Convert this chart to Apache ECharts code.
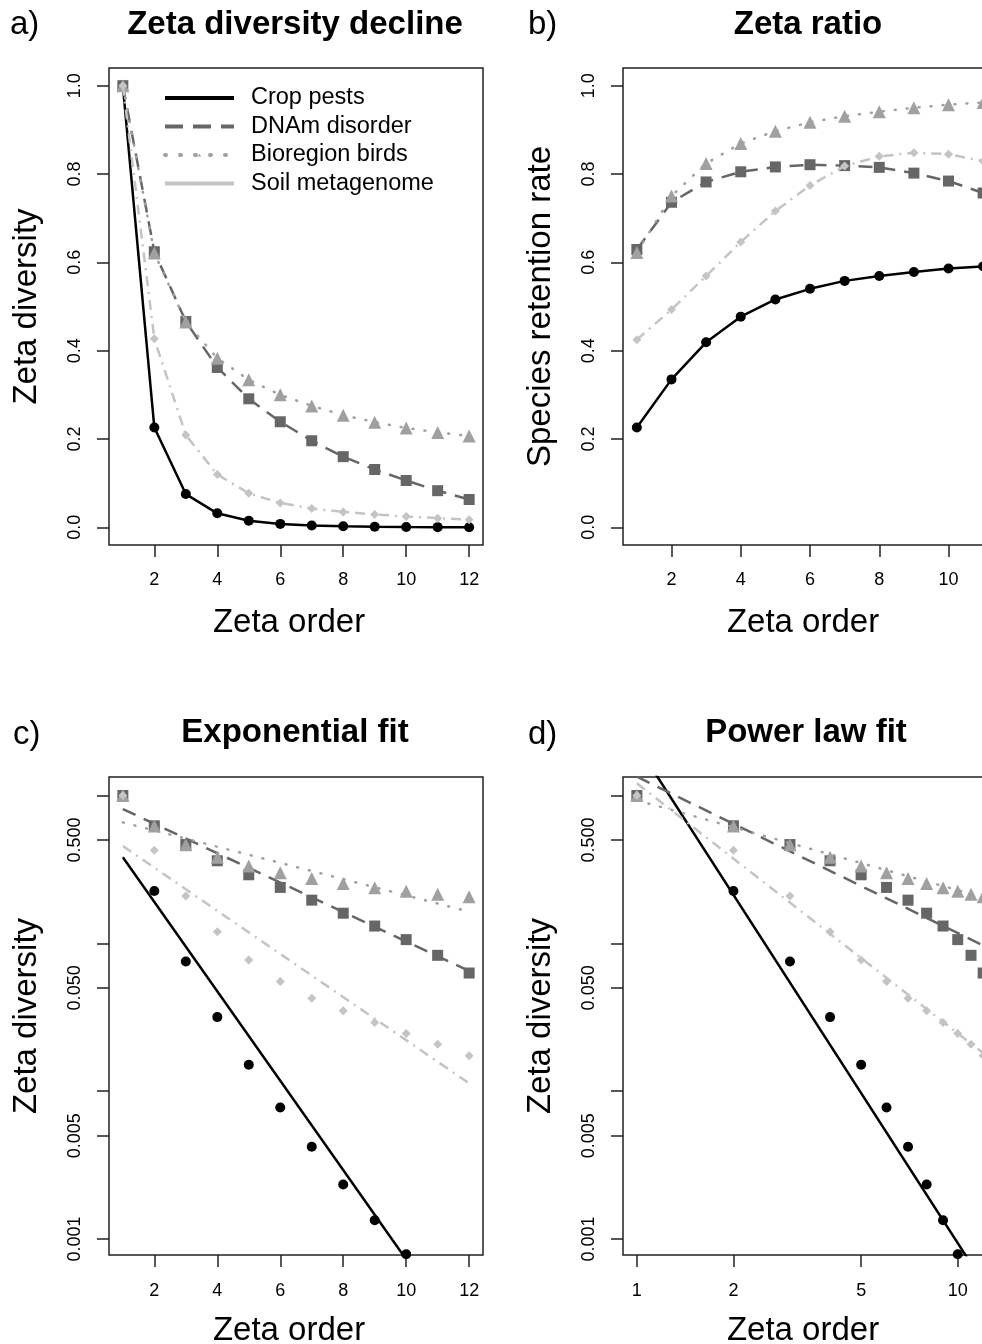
<!DOCTYPE html>
<html>
<head>
<meta charset="utf-8">
<script src="https://cdn.jsdelivr.net/npm/echarts@6/dist/echarts.min.js"></script>
<style>
  html, body { margin: 0; padding: 0; background: #fff; }
  #chart { width: 982px; height: 1344px; }
</style>
</head>
<body>
<div id="chart"></div>
<script>
(function () {

    var FONT = '"Liberation Sans", Arial, Helvetica, sans-serif';

    // data
    var names = ['Crop pests', 'DNAm disorder', 'Bioregion birds', 'Soil metagenome'];
    var orders = [1, 2, 3, 4, 5, 6, 7, 8, 9, 10, 11, 12];
    var ratioOrders = [1, 2, 3, 4, 5, 6, 7, 8, 9, 10, 11];

    var cropZeta = [1, 0.226, 0.0753, 0.0317, 0.0151, 0.00776, 0.00421, 0.00234, 0.00134, 0.00079, 0.00046, 0.00027];
    var dnamZeta = [1, 0.624, 0.466, 0.362, 0.291, 0.239, 0.196, 0.160, 0.131, 0.106, 0.083, 0.063];
    var birdZeta = [1, 0.621, 0.465, 0.383, 0.334, 0.300, 0.275, 0.254, 0.238, 0.225, 0.215, 0.207];
    var soilZeta = [1, 0.427, 0.209, 0.1197, 0.0772, 0.0552, 0.0425, 0.0350, 0.0292, 0.0246, 0.0208, 0.0174];

    var cropRatio = [0.226, 0.335, 0.419, 0.477, 0.516, 0.540, 0.558, 0.569, 0.578, 0.586, 0.591];
    var dnamRatio = [0.629, 0.736, 0.782, 0.805, 0.816, 0.821, 0.819, 0.815, 0.802, 0.784, 0.757];
    var birdRatio = [0.622, 0.750, 0.824, 0.869, 0.897, 0.917, 0.931, 0.941, 0.950, 0.957, 0.962];
    var soilRatio = [0.425, 0.493, 0.569, 0.646, 0.716, 0.774, 0.818, 0.840, 0.848, 0.845, 0.829];

    // fitted lines, value at order 1 and order 12
    var fitEnds = [1, 12];
    var expFitCrop = [0.382, 0.000181];
    var expFitDnam = [0.81, 0.0651];
    var expFitBird = [0.658, 0.164];
    var expFitSoil = [0.455, 0.0113];
    var powFitCrop = [2.2, 0.000508];
    var powFitDnam = [1.34, 0.0968];
    var powFitBird = [0.93, 0.205];
    var powFitSoil = [1.21, 0.0181];

    var linearTicks = [0, 0.2, 0.4, 0.6, 0.8, 1.0];
    var orderTicks = [2, 4, 6, 8, 10, 12];
    var ratioOrderTicks = [2, 4, 6, 8, 10];
    var logTicks = [0.001, 0.005, 0.01, 0.05, 0.1, 0.5, 1];
    var logLabels = [0.001, 0.005, 0.05, 0.5];
    var logOrderTicks = [1, 2, 5, 10];

    //
    var colors = ['#000000', '#666666', '#a0a0a0', '#c4c4c4'];
    var symbols = ['circle', 'rect', 'triangle', 'diamond'];
    var symbolSizes = [10, 11, 13, 9];
    var dashes = ['solid', [14, 9], [1, 11], [10, 6, 2, 6]];

    var zetaSets = [cropZeta, dnamZeta, birdZeta, soilZeta];
    var ratioSets = [cropRatio, dnamRatio, birdRatio, soilRatio];
    var expFits = [expFitCrop, expFitDnam, expFitBird, expFitSoil];
    var powFits = [powFitCrop, powFitDnam, powFitBird, powFitSoil];

    function log10(v) {
        return Math.log(v) / Math.LN10;
    }

    function pairs(xs, ys, fx, fy) {
        var out = [];
        for (var i = 0; i < xs.length; i++) {
            out.push([fx ? fx(xs[i]) : xs[i], fy ? fy(ys[i]) : ys[i]]);
        }
        return out;
    }

    function lineStyleFor(k) {
        return {
            color: colors[k],
            width: 2.5,
            type: dashes[k],
            cap: k === 2 ? 'round' : 'butt'
        };
    }

    //
    var grids = [
        { left: 109, top: 68, width: 374, height: 477 },
        { left: 623, top: 68, width: 374, height: 477 },
        { left: 109, top: 777, width: 374, height: 478 },
        { left: 623, top: 777, width: 374, height: 478 }
    ];
    grids.forEach(function (g) {
        g.show = true;
        g.borderColor = '#222';
        g.borderWidth = 1.5;
        g.backgroundColor = 'transparent';
        g.outerBoundsMode = 'none';
        g.containLabel = false;
    });

    function baseAxis(extra) {
        var ax = {
            type: 'value',
            axisLine: { show: false, onZero: false },
            splitLine: { show: false },
            axisTick: { show: true, length: 12, lineStyle: { color: '#222', width: 1.5 } },
            axisLabel: { color: '#000', fontSize: 18, fontFamily: FONT },
            nameLocation: 'middle',
            nameMoveOverlap: false,
            nameTextStyle: { color: '#000', fontSize: 33, fontFamily: FONT }
        };
        for (var k in extra) {
            ax[k] = extra[k];
        }
        return ax;
    }

    function xAxisFor(gridIndex, min, max, ticks, labelFmt, margin, gap) {
        var ax = baseAxis({
            gridIndex: gridIndex,
            position: 'bottom',
            min: min,
            max: max,
            name: 'Zeta order',
            nameGap: gap
        });
        ax.nameTextStyle = { color: '#000', fontSize: 33, fontFamily: FONT, padding: [0, 14, 0, 0] };
        ax.axisTick.customValues = ticks;
        ax.axisLabel.customValues = ticks;
        ax.axisLabel.margin = margin;
        if (labelFmt) {
            ax.axisLabel.formatter = labelFmt;
        }
        return ax;
    }

    function yAxisFor(gridIndex, min, max, ticks, labels, labelFmt, name) {
        var ax = baseAxis({
            gridIndex: gridIndex,
            position: 'left',
            min: min,
            max: max,
            name: name,
            nameGap: 66
        });
        ax.axisTick.customValues = ticks;
        ax.axisLabel.customValues = labels;
        ax.axisLabel.rotate = 90;
        ax.axisLabel.margin = 25;
        ax.axisLabel.formatter = labelFmt;
        return ax;
    }

    var logTickVals = logTicks.map(log10);
    var logLabelVals = logLabels.map(log10);
    var logOrderVals = logOrderTicks.map(log10);

    function fmt1(v) { return v.toFixed(1); }
    function fmtLog(v) { return Math.pow(10, v).toFixed(3); }
    function fmtLogOrder(v) { return String(Math.round(Math.pow(10, v))); }

    var logYMin = -3.108;
    var logYMax = 0.1253;
    var logXSpan = log10(12) * 0.04;

    var xAxes = [
        xAxisFor(0, 0.56, 12.44, orderTicks, null, 26, 61),
        xAxisFor(1, 0.6, 11.4, ratioOrderTicks, null, 26, 61),
        xAxisFor(2, 0.56, 12.44, orderTicks, null, 27, 59),
        xAxisFor(3, -logXSpan, log10(12) + logXSpan, logOrderVals, fmtLogOrder, 27, 59)
    ];
    var yAxes = [
        yAxisFor(0, -0.04, 1.04, linearTicks, linearTicks, fmt1, 'Zeta diversity'),
        yAxisFor(1, -0.04, 1.04, linearTicks, linearTicks, fmt1, 'Species retention rate'),
        yAxisFor(2, logYMin, logYMax, logTickVals, logLabelVals, fmtLog, 'Zeta diversity'),
        yAxisFor(3, logYMin, logYMax, logTickVals, logLabelVals, fmtLog, 'Zeta diversity')
    ];

    //
    var series = [];
    for (var k = 0; k < 4; k++) {
        // a) decline
        series.push({
            name: names[k], type: 'line', xAxisIndex: 0, yAxisIndex: 0,
            data: pairs(orders, zetaSets[k]),
            symbol: symbols[k], symbolSize: symbolSizes[k], showSymbol: true,
            itemStyle: { color: colors[k] },
            lineStyle: lineStyleFor(k),
            clip: true, z: 2 + k
        });
        // b) ratio
        series.push({
            name: names[k], type: 'line', xAxisIndex: 1, yAxisIndex: 1,
            data: pairs(ratioOrders, ratioSets[k]),
            symbol: symbols[k], symbolSize: symbolSizes[k], showSymbol: true,
            itemStyle: { color: colors[k] },
            lineStyle: lineStyleFor(k),
            clip: true, z: 2 + k
        });
        // c) exponential fit
        series.push({
            name: names[k], type: 'scatter', xAxisIndex: 2, yAxisIndex: 2,
            data: pairs(orders, zetaSets[k], null, log10),
            symbol: symbols[k], symbolSize: symbolSizes[k],
            itemStyle: { color: colors[k], opacity: 1 },
            clip: true, z: 2 + k
        });
        series.push({
            name: names[k], type: 'line', xAxisIndex: 2, yAxisIndex: 2,
            data: pairs(fitEnds, expFits[k], null, log10),
            showSymbol: false, symbol: 'none',
            lineStyle: lineStyleFor(k),
            clip: true, z: 2 + k
        });
        // d) power law fit
        series.push({
            name: names[k], type: 'scatter', xAxisIndex: 3, yAxisIndex: 3,
            data: pairs(orders, zetaSets[k], log10, log10),
            symbol: symbols[k], symbolSize: symbolSizes[k],
            itemStyle: { color: colors[k], opacity: 1 },
            clip: true, z: 2 + k
        });
        series.push({
            name: names[k], type: 'line', xAxisIndex: 3, yAxisIndex: 3,
            data: pairs(fitEnds, powFits[k], log10, log10),
            showSymbol: false, symbol: 'none',
            lineStyle: lineStyleFor(k),
            clip: true, z: 2 + k
        });
    }

    //
    function panelTitle(text, x, y, bold, align) {
        return {
            text: text,
            left: x,
            top: y,
            padding: 0,
            textAlign: align,
            textVerticalAlign: 'middle',
            textStyle: {
                color: '#000',
                fontSize: 33,
                fontWeight: bold ? 'bold' : 'normal',
                fontFamily: FONT
            }
        };
    }

    var titles = [
        panelTitle('a)', 10, 25, false, 'left'),
        panelTitle('Zeta diversity decline', 295, 25, true, 'center'),
        panelTitle('b)', 528, 25, false, 'left'),
        panelTitle('Zeta ratio', 808, 25, true, 'center'),
        panelTitle('c)', 13, 735, false, 'left'),
        panelTitle('Exponential fit', 295, 733, true, 'center'),
        panelTitle('d)', 528, 735, false, 'left'),
        panelTitle('Power law fit', 806, 733, true, 'center')
    ];

    var legendLines = [
        { type: 'solid', width: 4 },
        { type: [18, 10], width: 4 },
        { type: [1, 14], width: 4, cap: 'round' },
        { type: 'solid', width: 4 }
    ];

    var legendData = names.map(function (n, i) {
        return {
            name: n,
            lineStyle: { color: colors[i], type: legendLines[i].type, width: legendLines[i].width, cap: legendLines[i].cap || 'butt' }
        };
    });

    var option = {
        animation: false,
        backgroundColor: '#fff',
        title: titles,
        legend: {
            data: legendData,
            orient: 'vertical',
            left: 163,
            top: 86,
            padding: 0,
            itemWidth: 69,
            itemHeight: 4,
            itemGap: 4.5,
            selectedMode: false,
            textStyle: { color: '#000', fontSize: 23.5, fontFamily: FONT, padding: [0, 0, 0, 12] }
        },
        grid: grids,
        xAxis: xAxes,
        yAxis: yAxes,
        series: series
    };

    var chart = echarts.init(document.getElementById('chart'), null, { renderer: 'canvas' });
    chart.setOption(option);

}());
</script>
</body>
</html>
